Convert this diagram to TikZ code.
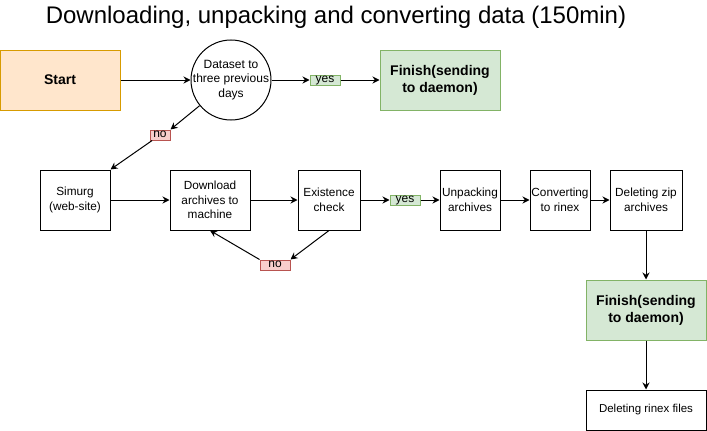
\documentclass[tikz,border=0pt]{standalone}
\usepackage{fontspec}
\setmainfont{Liberation Sans}
\usetikzlibrary{arrows.meta}
\definecolor{startfill}{HTML}{FFE6CC}
\definecolor{startdraw}{HTML}{D79B00}
\definecolor{finfill}{HTML}{D5E8D4}
\definecolor{findraw}{HTML}{82B366}
\definecolor{nofill}{HTML}{F8CECC}
\definecolor{nodraw}{HTML}{B85450}
\begin{document}
\begin{tikzpicture}[x=1pt,y=-1pt]
    \tikzstyle step box=[draw,line width=1pt,inner sep=1pt,align=center,font=\fontsize{11.8}{14.5}\selectfont]
    \tikzstyle finish=[step box,fill=finfill,draw=findraw,font=\fontsize{14}{17}\selectfont\bfseries,minimum width=120pt,minimum height=60pt]
    \tikzstyle yeslabel=[draw=findraw,fill=finfill,line width=1pt,inner sep=0pt,text height=7pt,text depth=2pt,minimum height=10pt,font=\fontsize{12}{12}\selectfont]
    \tikzstyle nolabel=[draw=nodraw,fill=nofill,line width=1pt,inner sep=0pt,text height=7pt,text depth=2pt,minimum height=10pt,font=\fontsize{12}{12}\selectfont]
    \tikzstyle arrow=[-{Stealth[length=7pt,width=7pt]},line width=1pt]
    \useasboundingbox (0,0) rectangle (707,431);
    \node[font=\fontsize{24}{28}\selectfont] (title) at (336,17) {Downloading, unpacking and converting data (150min)};
    \node[step box,fill=startfill,draw=startdraw,font=\fontsize{14}{16}\selectfont\bfseries,minimum width=120pt,minimum height=60pt] (start) at (60,80) {Start};
    \node[draw,circle,line width=1pt,minimum size=80pt,inner sep=-6pt,align=center,font=\fontsize{12}{14.5}\selectfont] (dataset) at (231,80) {Dataset to\\three previous\\days};
    \node[finish] (finishA) at (440,80) {Finish(sending\\to daemon)};
    \node[yeslabel,minimum width=30pt] (yesA) at (325,80) {yes};
    \node[nolabel,minimum width=20pt] (noA) at (160,135) {no};
    \node[step box,minimum width=70pt,minimum height=60pt] (simurg) at (75,200) {Simurg\\(web-site)};
    \node[step box,minimum width=80pt,minimum height=60pt] (download) at (210,200) {Download\\archives to\\machine};
    \node[step box,minimum width=62pt,minimum height=60pt] (exist) at (329,200) {Existence\\check};
    \node[yeslabel,minimum width=30pt] (yesB) at (405,200) {yes};
    \node[nolabel,minimum width=30pt] (noB) at (275,265) {no};
    \node[step box,minimum width=60pt,minimum height=60pt] (unpack) at (470,200) {Unpacking\\archives};
    \node[step box,minimum width=60pt,minimum height=60pt] (convert) at (560,200) {Converting\\to rinex};
    \node[step box,minimum width=72pt,minimum height=60pt] (delzip) at (646,200) {Deleting zip\\archives};
    \node[finish] (finishB) at (646,310) {Finish(sending\\to daemon)};
    \node[step box,minimum width=120pt,minimum height=40pt,font=\fontsize{11.5}{14}\selectfont] (delrinex) at (646,410) {Deleting rinex files};
    % top row
    \draw[arrow] (start) -- (dataset);
    \draw[arrow] (dataset) -- (yesA);
    \draw[arrow] (yesA) -- (finishA);
    \draw[arrow] (dataset) -- (noA.north east);
    \draw[arrow] (noA) -- (simurg.north east);
    % middle row
    \draw[arrow] (simurg) -- (download);
    \draw[arrow] (download) -- (exist);
    \draw[arrow] (exist) -- (yesB);
    \draw[arrow] (yesB) -- (unpack);
    \draw[arrow] (exist.south) -- (noB.north east);
    \draw[arrow] (noB.north west) -- (download.south);
    \draw[arrow] (unpack) -- (convert);
    \draw[arrow] (convert) -- (delzip);
    % down to the end
    \draw[arrow] (delzip) -- (finishB);
    \draw[arrow] (finishB) -- (delrinex);
\end{tikzpicture}
\end{document}
